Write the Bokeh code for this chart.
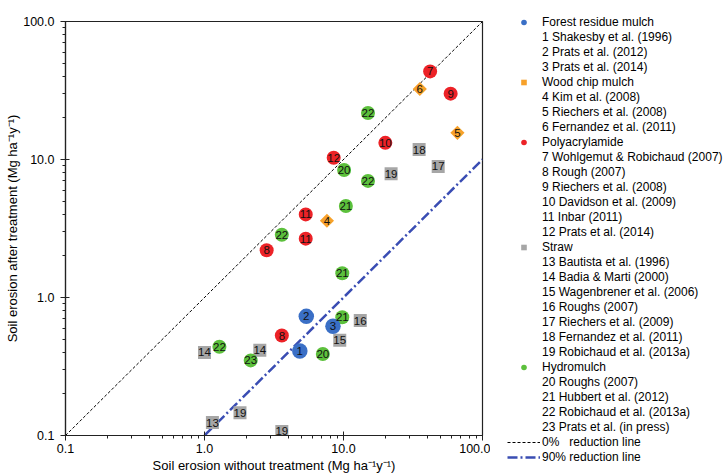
from bokeh.plotting import figure
from bokeh.layouts import row
from bokeh.models import (ColumnDataSource, Range1d, FixedTicker, PrintfTickFormatter,
                          Legend, LegendItem)
from bokeh.core.properties import value
from bokeh.embed import file_html
from bokeh.resources import INLINE
import math

FONT = "Liberation Sans"

# ---------------- data ----------------
forest_x = [4.85, 5.4, 8.4]
forest_y = [0.41, 0.73, 0.62]
forest_id = ["1", "2", "3"]

wood_x = [7.6, 66.0, 35.4]
wood_y = [3.6, 15.6, 32.4]
wood_id = ["4", "5", "6"]

poly_x = [42.0, 2.8, 3.6, 59.0, 20.0, 5.35, 5.35, 8.5]
poly_y = [43.5, 2.2, 0.53, 30.0, 13.2, 4.0, 2.67, 10.3]
poly_id = ["7", "8", "8", "9", "10", "11", "11", "12"]

straw_x = [1.14, 1.0, 2.5, 9.4, 13.2, 48.0, 35.0, 22.0, 1.8, 3.6]
straw_y = [0.124, 0.40, 0.415, 0.49, 0.68, 8.9, 11.8, 7.9, 0.146, 0.107]
straw_id = ["13", "14", "14", "15", "16", "17", "18", "19", "19", "19"]

hydro_x = [10.1, 7.1, 10.4, 9.8, 9.8, 15.0, 15.0, 3.6, 1.28, 2.15]
hydro_y = [8.4, 0.39, 4.6, 1.5, 0.72, 21.7, 7.0, 2.85, 0.44, 0.35]
hydro_id = ["20", "20", "21", "21", "21", "22", "22", "22", "22", "23"]

axis_ticks = [0.1, 1.0, 10.0, 100.0]
reductions = [0.0, 0.9]

forest_refs = ["1 Shakesby et al. (1996)", "2 Prats et al. (2012)", "3 Prats et al. (2014)"]
wood_refs = ["4 Kim et al. (2008)", "5 Riechers et al. (2008)", "6 Fernandez et al. (2011)"]
poly_refs = ["7 Wohlgemut & Robichaud (2007)", "8 Rough (2007)", "9 Riechers et al. (2008)",
             "10 Davidson et al. (2009)", "11 Inbar (2011)", "12 Prats et al. (2014)"]
straw_refs = ["13 Bautista et al. (1996)", "14 Badia & Marti (2000)",
              "15 Wagenbrener et al. (2006)", "16 Roughs (2007)", "17 Riechers et al. (2009)",
              "18 Fernandez et al. (2011)", "19 Robichaud et al. (2013a)"]
hydro_refs = ["20 Roughs (2007)", "21 Hubbert et al. (2012)", "22 Robichaud et al. (2013a)",
              "23 Prats et al. (in press)"]

BLUE, ORANGE, RED, GREY, GREEN = "#3a6fc6", "#f7a12a", "#ec2227", "#a6a6a6", "#5cc03c"
LINE90 = "#3a4db3"

# ---------------- main figure ----------------
p = figure(width=490, height=475, x_axis_type="log", y_axis_type="log",
           x_range=Range1d(axis_ticks[0], axis_ticks[-1]),
           y_range=Range1d(axis_ticks[0], axis_ticks[-1]),
           output_backend="svg", toolbar_location=None,
           min_border_left=65, min_border_right=8, min_border_top=21, min_border_bottom=40)
p.background_fill_color = "white"
p.border_fill_color = "white"
p.outline_line_color = "#222222"
p.outline_line_width = 1.2
p.xgrid.visible = False
p.ygrid.visible = False

minor = [k * 10 ** e for e in (-1, 0, 1) for k in range(2, 10)]
for ax in (p.xaxis[0], p.yaxis[0]):
    ax.ticker = FixedTicker(ticks=axis_ticks, minor_ticks=minor)
    ax.formatter = PrintfTickFormatter(format="%.1f")
    ax.axis_line_color = "#222222"
    ax.axis_line_width = 1.2
    ax.major_tick_line_color = "#222222"
    ax.minor_tick_line_color = "#222222"
    ax.major_tick_in = 4
    ax.major_tick_out = 5
    ax.minor_tick_in = 0
    ax.minor_tick_out = 3
    ax.major_label_text_font = FONT
    ax.major_label_text_font_size = "12.5px"
    ax.major_label_text_color = "black"
    ax.axis_label_text_font = FONT
    ax.axis_label_text_font_size = "13px"
    ax.axis_label_text_font_style = "normal"
    ax.axis_label_text_color = "black"
p.xaxis.major_label_standoff = 3
p.xaxis.axis_label_standoff = 2
p.yaxis.major_label_standoff = 6
p.yaxis.axis_label_standoff = 0
p.xaxis.axis_label = "Soil erosion without treatment (Mg ha\u207b\u00b9y\u207b\u00b9)"
p.yaxis.axis_label = "Soil erosion after treatment (Mg ha\u207b\u00b9y\u207b\u00b9)"

# reference lines
line_x = [axis_ticks[0], axis_ticks[-1]]
p.line(line_x, [v * (1 - reductions[0]) for v in line_x],
       line_color="black", line_width=1, line_dash="3 2")
x90 = [axis_ticks[1], axis_ticks[-1]]
p.line(x90, [v * (1 - reductions[1]) for v in x90],
       line_color=LINE90, line_width=2.5, line_dash="10 3 2 3")

def src(xs, ys, ids):
    return ColumnDataSource(dict(x=xs, y=ys, t=ids))

s_straw = src(straw_x, straw_y, straw_id)
s_forest = src(forest_x, forest_y, forest_id)
s_wood = src(wood_x, wood_y, wood_id)
s_poly = src(poly_x, poly_y, poly_id)
s_hydro = src(hydro_x, hydro_y, hydro_id)

p.scatter("x", "y", source=s_straw, marker="square", size=13, fill_color=GREY, line_color=None)
p.scatter("x", "y", source=s_hydro, marker="circle", size=14, fill_color=GREEN, line_color=None)
p.scatter("x", "y", source=s_poly, marker="circle", size=14, fill_color=RED, line_color=None)
p.scatter("x", "y", source=s_wood, marker="square", size=10, angle=math.pi / 4,
          fill_color=ORANGE, line_color=None)
p.scatter("x", "y", source=s_forest, marker="circle", size=15.5, fill_color=BLUE, line_color=None)

for s in (s_straw, s_hydro, s_poly, s_wood, s_forest):
    p.text("x", "y", text="t", source=s, text_align="center", text_baseline="middle",
           text_font=value(FONT), text_font_size="11.5px", text_color="#111111")

# ---------------- legend figure ----------------
q = figure(width=235, height=475, x_range=Range1d(0, 1), y_range=Range1d(0, 1),
           x_axis_location=None, y_axis_location=None, output_backend="svg",
           toolbar_location=None, min_border=0)
q.outline_line_color = None
q.xgrid.visible = False
q.ygrid.visible = False

# proxy glyphs placed outside the visible range, only used by the legend
off = [5.0, 6.0]
g_forest = q.scatter(off, off, marker="circle", fill_color=BLUE, line_color=None)
g_wood = q.scatter(off, off, marker="square", angle=math.pi / 4, fill_color=ORANGE, line_color=None)
g_poly = q.scatter(off, off, marker="circle", fill_color=RED, line_color=None)
g_straw = q.scatter(off, off, marker="square", fill_color=GREY, line_color=None)
g_hydro = q.scatter(off, off, marker="circle", fill_color=GREEN, line_color=None)
g_0 = q.line(off, off, line_color="black", line_width=1, line_dash="3 2")
g_90 = q.line(off, off, line_color=LINE90, line_width=2.5, line_dash="10 3 2 3")
dummy = q.scatter(off, off, alpha=0)

items = []
items.append(LegendItem(label="Forest residue mulch", renderers=[g_forest]))
items += [LegendItem(label=t, renderers=[dummy]) for t in forest_refs]
items.append(LegendItem(label="Wood chip mulch", renderers=[g_wood]))
items += [LegendItem(label=t, renderers=[dummy]) for t in wood_refs]
items.append(LegendItem(label="Polyacrylamide", renderers=[g_poly]))
items += [LegendItem(label=t, renderers=[dummy]) for t in poly_refs]
items.append(LegendItem(label="Straw", renderers=[g_straw]))
items += [LegendItem(label=t, renderers=[dummy]) for t in straw_refs]
items.append(LegendItem(label="Hydromulch", renderers=[g_hydro]))
items += [LegendItem(label=t, renderers=[dummy]) for t in hydro_refs]
items.append(LegendItem(label="0%\u00a0\u00a0\u00a0reduction line", renderers=[g_0]))
items.append(LegendItem(label="90% reduction line", renderers=[g_90]))

legend = Legend(items=items, location=(17, -29), padding=0, margin=0,
                glyph_width=33, glyph_height=14, label_height=14, spacing=1,
                label_standoff=2, label_text_font=FONT, label_text_font_size="12px",
                label_text_color="black", background_fill_alpha=0, border_line_alpha=0)
q.add_layout(legend, "left")

layout = row(p, q)
open("out.html", "w").write(file_html(layout, INLINE))
